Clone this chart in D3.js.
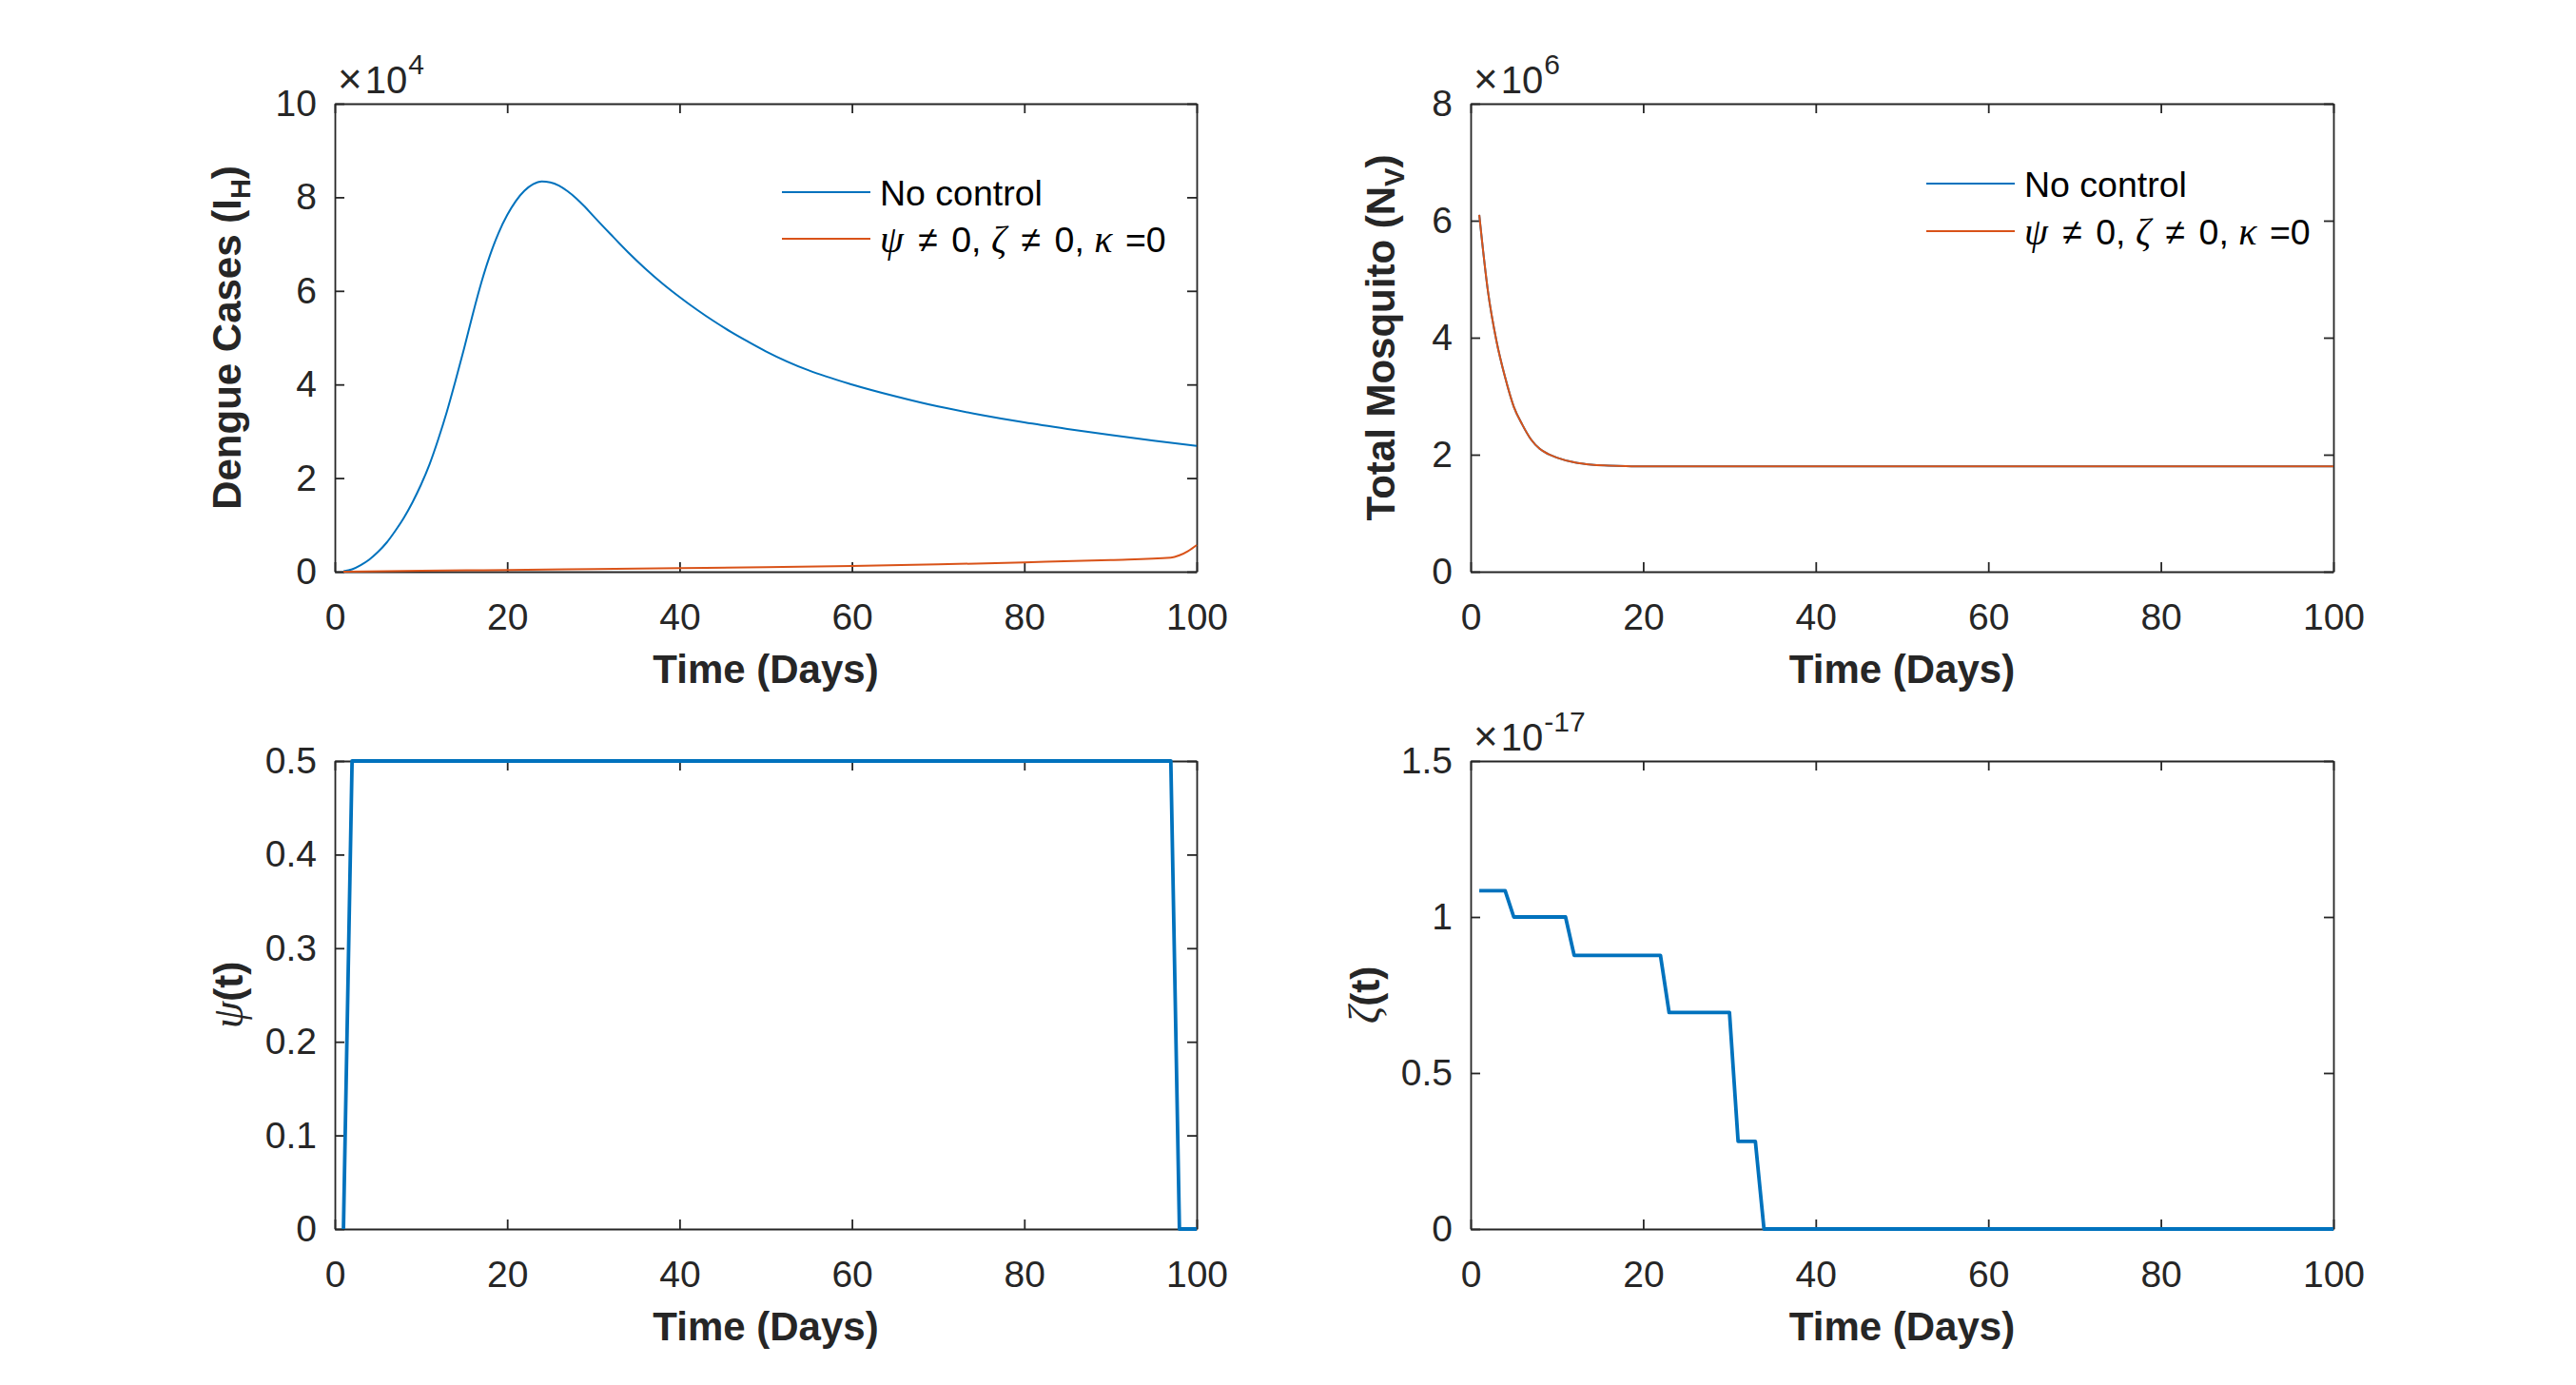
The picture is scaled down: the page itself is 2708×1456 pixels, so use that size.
<!DOCTYPE html>
<html>
<head>
<meta charset="utf-8">
<script src="https://cdn.jsdelivr.net/npm/d3@7"></script>
<style>
  html, body { margin: 0; padding: 0; background: #ffffff; }
  svg { display: block; }
  text { white-space: pre; }
</style>
</head>
<body>
<svg id="chart" width="2708" height="1456"></svg>
<script>
// ---------------- DATA ----------------
const timeTicks = [0, 20, 40, 60, 80, 100];

// Panel 1: Dengue cases (x 10^4)
const dengueTicks = [0, 2, 4, 6, 8, 10];
const dengueNoControlT = [1,2,3,4,5,6,7,8,9,10,11,12,13,14,15,16,17,18,19,20,21,22,23,24,25,26,27,28,29,30,32,34,36,38,40,42,44,46,48,50,55,60,65,70,75,80,85,90,95,100];
const dengueNoControl  = [0.01,0.05,0.14,0.26,0.42,0.62,0.87,1.15,1.48,1.86,2.30,2.83,3.42,4.08,4.77,5.50,6.18,6.76,7.24,7.62,7.92,8.14,8.28,8.34,8.32,8.25,8.13,7.98,7.80,7.60,7.21,6.83,6.48,6.16,5.87,5.60,5.35,5.12,4.91,4.71,4.30,4.00,3.75,3.53,3.35,3.19,3.05,2.92,2.80,2.69];
const dengueControlT = [1,10,20,30,40,50,60,70,80,90,97,98,99,100];
const dengueControl  = [0.0,0.02,0.035,0.055,0.075,0.095,0.12,0.155,0.20,0.25,0.30,0.35,0.44,0.57];

// Panel 2: Total mosquito (x 10^6)
const mosqTicks = [0, 2, 4, 6, 8];
const mosqT = [1,2,3,4,5,6,7,8,9,10,12,14,16,18,20,30,40,50,60,70,80,90,100];
const mosqNoControl = [6.10,4.80,3.94,3.32,2.82,2.51,2.26,2.10,2.01,1.95,1.87,1.83,1.815,1.805,1.80,1.80,1.80,1.80,1.80,1.80,1.80,1.80,1.80];
const mosqControl   = [6.10,4.80,3.94,3.32,2.82,2.51,2.26,2.10,2.01,1.95,1.87,1.83,1.815,1.805,1.80,1.80,1.80,1.80,1.80,1.80,1.80,1.80,1.80];

// Panel 3: psi(t)
const psiTicks = [0, 0.1, 0.2, 0.3, 0.4, 0.5];
const psiT = [1, 2, 97, 98, 100];
const psiV = [0, 0.5, 0.5, 0, 0];

// Panel 4: zeta(t) (x 10^-17)
const zetaTicks = [0, 0.5, 1, 1.5];
const zetaT = [1, 4, 5, 11, 12, 22, 23, 30, 31, 33, 34, 100];
const zetaV = [1.084, 1.084, 1.0, 1.0, 0.877, 0.877, 0.694, 0.694, 0.281, 0.281, 0, 0];

const legendLabels = ["No control", "control"];
// --------------------------------------

const BLUE = "#0072BD", ORANGE = "#D95319", AX = "#262626";
const SANS = "'Liberation Sans', Arial, Helvetica, sans-serif";
const SERIF = "'Liberation Serif', 'DejaVu Serif', serif";
const svg = d3.select("#chart");
svg.append("rect").attr("width", 2708).attr("height", 1456).attr("fill", "#fff");

function panel(opt) {
  const g = svg.append("g");
  const x = d3.scaleLinear().domain([0, 100]).range([opt.x0, opt.x1]);
  const y = d3.scaleLinear().domain(opt.yDomain).range([opt.y1, opt.y0]);

  const styleAxis = sel => {
    sel.selectAll("path.domain").attr("stroke", AX).attr("stroke-width", 1.8);
    sel.selectAll(".tick line").attr("stroke", AX).attr("stroke-width", 1.8);
    sel.selectAll(".tick text").attr("fill", AX).attr("font-family", SANS).attr("font-size", 39);
  };

  g.append("g").attr("transform", `translate(0,${opt.y1})`)
    .call(d3.axisBottom(x).tickValues(timeTicks).tickSizeInner(-10).tickSizeOuter(0).tickPadding(33).tickFormat(d3.format("d")))
    .call(styleAxis);
  g.append("g").attr("transform", `translate(0,${opt.y0})`)
    .call(d3.axisTop(x).tickValues(timeTicks).tickSizeInner(-10).tickSizeOuter(0).tickFormat(""))
    .call(styleAxis);
  g.append("g").attr("transform", `translate(${opt.x0},0)`)
    .call(d3.axisLeft(y).tickValues(opt.yTicks).tickSizeInner(-10).tickSizeOuter(0).tickPadding(19).tickFormat(d => String(d)))
    .call(styleAxis);
  g.append("g").attr("transform", `translate(${opt.x1},0)`)
    .call(d3.axisRight(y).tickValues(opt.yTicks).tickSizeInner(-10).tickSizeOuter(0).tickFormat(""))
    .call(styleAxis);
  g.selectAll(".tick text").attr("font-size", 39);

  // exponent
  if (opt.exp) {
    const t = g.append("text").attr("x", opt.x0 + 3).attr("y", opt.y0 - 11)
      .attr("font-family", SANS).attr("font-size", 40).attr("fill", AX);
    t.append("tspan").attr("font-size", 44).attr("font-weight", 300).text("\u00d7");
    t.append("tspan").attr("dx", 3).text("10");
    t.append("tspan").attr("font-size", 30).attr("dy", -20).attr("dx", 1).text(opt.exp);
  }

  // lines
  opt.series.forEach(s => {
    const line = d3.line().x((d, i) => x(s.t[i])).y(d => y(d)).curve(s.curve || d3.curveLinear);
    g.append("path").datum(s.v).attr("d", line).attr("fill", "none")
      .attr("stroke", s.color).attr("stroke-width", s.width).attr("stroke-linejoin", "round");
  });

  // x label
  g.append("text").attr("x", (opt.x0 + opt.x1) / 2).attr("y", opt.y1 + 117)
    .attr("text-anchor", "middle").attr("font-family", SANS).attr("font-weight", "bold")
    .attr("font-size", 42).attr("fill", AX).text("Time (Days)");

  // y label
  const yl = g.append("text")
    .attr("transform", `translate(${opt.ylx},${(opt.y0 + opt.y1) / 2}) rotate(-90)`)
    .attr("text-anchor", "middle").attr("font-family", SANS).attr("font-weight", "bold")
    .attr("font-size", 42).attr("fill", AX);
  opt.ylabel(yl);

  // legend
  if (opt.legend) {
    const L = opt.legend;
    [BLUE, ORANGE].forEach((c, i) => {
      const yy = L.y + i * L.dy;
      g.append("line").attr("x1", L.x).attr("x2", L.x + 93).attr("y1", yy).attr("y2", yy)
        .attr("stroke", c).attr("stroke-width", 2);
      const t = g.append("text").attr("x", L.x + 103).attr("y", yy).attr("dy", "0.36em")
        .attr("font-family", SANS).attr("font-size", 37.5).attr("fill", "#000");
      if (i === 0) {
        t.text(legendLabels[0]);
      } else {
        const gk = s => t.append("tspan").attr("font-family", SERIF).attr("font-style", "italic").attr("font-size", 40).text(s);
        gk("\u03c8");
        t.append("tspan").attr("dx", 5).text(" \u2260 ");
        t.append("tspan").attr("dx", 4).text("0, ");
        gk("\u03b6");
        t.append("tspan").attr("dx", 5).text(" \u2260 ");
        t.append("tspan").attr("dx", 4).text("0, ");
        gk("\u03ba");
        t.append("tspan").attr("dx", 3).text(" =0");
      }
    });
  }
}

const LX0 = 352, LX1 = 1258, RX0 = 1546, RX1 = 2453;
const TY0 = 109, TY1 = 601, BY0 = 800, BY1 = 1292;

panel({
  x0: LX0, x1: LX1, y0: TY0, y1: TY1, yDomain: [0, 10], yTicks: dengueTicks, exp: "4",
  series: [
    { t: dengueNoControlT, v: dengueNoControl, color: BLUE, width: 2, curve: d3.curveMonotoneX },
    { t: dengueControlT, v: dengueControl, color: ORANGE, width: 2, curve: d3.curveMonotoneX }
  ],
  ylx: 253,
  ylabel: t => {
    t.append("tspan").text("Dengue Cases (I");
    t.append("tspan").attr("font-size", 29).attr("dy", 10).text("H");
    t.append("tspan").attr("dy", -10).text(")");
  },
  legend: { x: 822, y: 202, dy: 49 }
});

panel({
  x0: RX0, x1: RX1, y0: TY0, y1: TY1, yDomain: [0, 8], yTicks: mosqTicks, exp: "6",
  series: [
    { t: mosqT, v: mosqNoControl, color: BLUE, width: 2, curve: d3.curveMonotoneX },
    { t: mosqT, v: mosqControl, color: ORANGE, width: 2, curve: d3.curveMonotoneX }
  ],
  ylx: 1466,
  ylabel: t => {
    t.append("tspan").text("Total Mosquito (N");
    t.append("tspan").attr("font-size", 29).attr("dy", 10).text("V");
    t.append("tspan").attr("dy", -10).text(")");
  },
  legend: { x: 2025, y: 193, dy: 50 }
});

panel({
  x0: LX0, x1: LX1, y0: BY0, y1: BY1, yDomain: [0, 0.5], yTicks: psiTicks, exp: null,
  series: [{ t: psiT, v: psiV, color: BLUE, width: 3.8 }],
  ylx: 255,
  ylabel: t => {
    t.append("tspan").attr("font-family", SERIF).attr("font-style", "italic").attr("font-weight", "normal").attr("font-size", 46).text("\u03c8");
    t.append("tspan").text("(t)");
  }
});

panel({
  x0: RX0, x1: RX1, y0: BY0, y1: BY1, yDomain: [0, 1.5], yTicks: zetaTicks, exp: "-17",
  series: [{ t: zetaT, v: zetaV, color: BLUE, width: 3.8 }],
  ylx: 1450,
  ylabel: t => {
    t.append("tspan").attr("font-family", SERIF).attr("font-style", "italic").attr("font-weight", "normal").attr("font-size", 46).text("\u03b6");
    t.append("tspan").text("(t)");
  }
});
</script>
</body>
</html>
